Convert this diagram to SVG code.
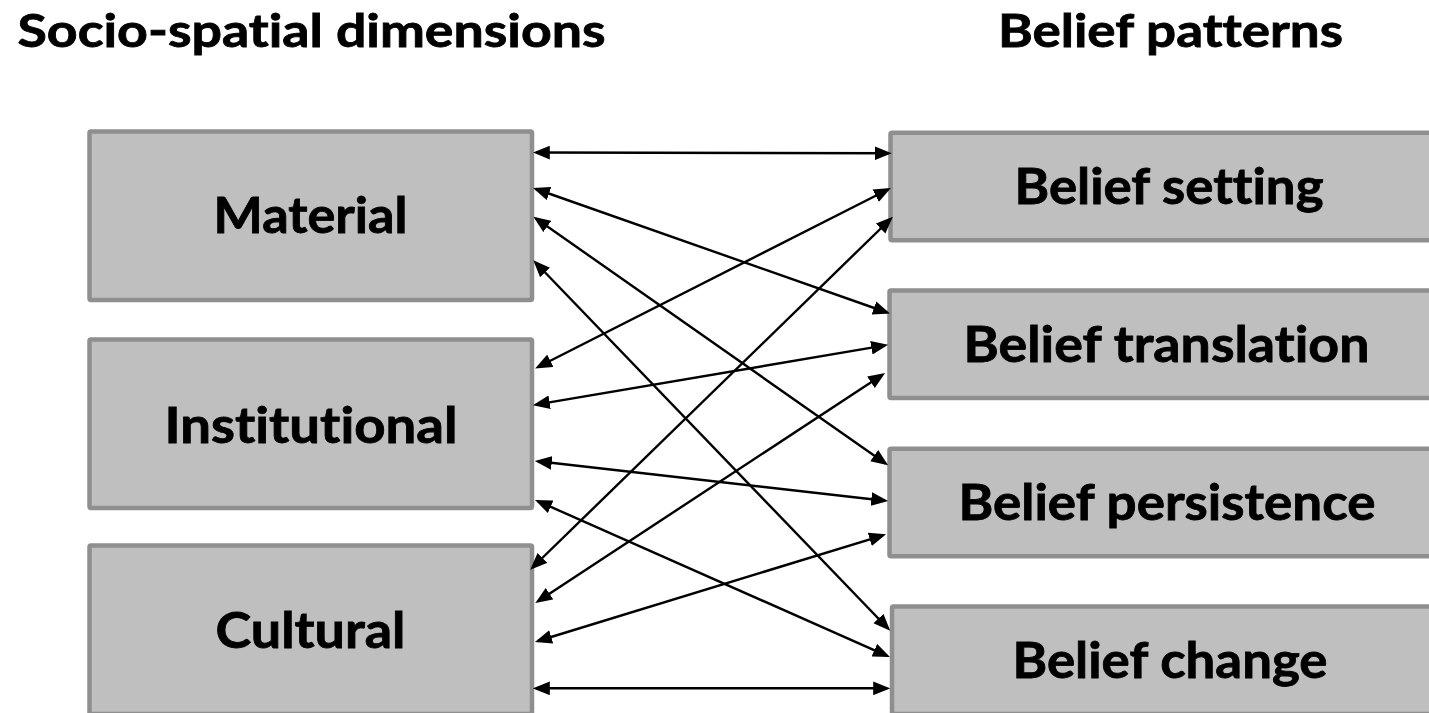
<svg xmlns="http://www.w3.org/2000/svg" width="1429" height="713" viewBox="0 0 1429 713">
  <style>
    .box { fill: #bfbfbf; stroke: #8f8f8f; stroke-width: 4.5; }
    .lbl { font-family: Lato, "Liberation Sans", sans-serif; font-weight: 700; font-size: 49px; fill: #000; stroke: #000; stroke-width: 0.8; text-anchor: middle; font-variant-ligatures: none; font-feature-settings: "liga" 0, "dlig" 0; }
    .title { font-family: Lato, "Liberation Sans", sans-serif; font-weight: 700; font-size: 46px; fill: #000; stroke: #000; stroke-width: 0.8; text-anchor: middle; font-variant-ligatures: none; font-feature-settings: "liga" 0, "dlig" 0; }
    .conn line { stroke: #000; stroke-width: 2.4; marker-start: url(#ah); marker-end: url(#ah); }
  </style>
  <defs>
    <marker id="ah" markerUnits="userSpaceOnUse" markerWidth="17" markerHeight="14" viewBox="0 0 16 13" refX="13" refY="6.5" orient="auto-start-reverse">
      <path d="M0,0 L16,6.5 L0,13 z" fill="#000"/>
    </marker>
  </defs>
  <rect width="1429" height="713" fill="#fff"/>

  <g id="title-left"><text class="title" x="311.5" y="47" textLength="588" lengthAdjust="spacingAndGlyphs">Socio-spatial dimensions</text></g>
  <g id="title-right"><text class="title" x="1170.5" y="47" textLength="345" lengthAdjust="spacingAndGlyphs">Belief patterns</text></g>

  <g id="material"><rect class="box" x="89.5" y="131.5" width="442.5" height="168.5" rx="1.5"/><text class="lbl" x="310.5" y="233.3" textLength="194" lengthAdjust="spacingAndGlyphs">Material</text></g>
  <g id="institutional"><rect class="box" x="89.5" y="339.5" width="442.5" height="168.5" rx="1.5"/><text class="lbl" x="311" y="442.7" textLength="293" lengthAdjust="spacingAndGlyphs">Institutional</text></g>
  <g id="cultural"><rect class="box" x="89.5" y="545.5" width="442.5" height="168.5" rx="1.5"/><text class="lbl" x="310.5" y="648.3" textLength="190" lengthAdjust="spacingAndGlyphs">Cultural</text></g>

  <g id="belief-setting"><rect class="box" x="890.5" y="132.8" width="560" height="107.4" rx="1.5"/><text class="lbl" x="1169" y="204" textLength="309" lengthAdjust="spacingAndGlyphs">Belief setting</text></g>
  <g id="belief-translation"><rect class="box" x="889.5" y="290.5" width="560" height="107.4" rx="1.5"/><text class="lbl" x="1166.5" y="361.7" textLength="406" lengthAdjust="spacingAndGlyphs">Belief translation</text></g>
  <g id="belief-persistence"><rect class="box" x="889.5" y="448.8" width="560" height="107.4" rx="1.5"/><text class="lbl" x="1167" y="520" textLength="417" lengthAdjust="spacingAndGlyphs">Belief persistence</text></g>
  <g id="belief-change"><rect class="box" x="892" y="606.5" width="560" height="107.4" rx="1.5"/><text class="lbl" x="1170" y="678.3" textLength="315" lengthAdjust="spacingAndGlyphs">Belief change</text></g>

  <g id="connectors" class="conn">
    <line x1="536" y1="152.5" x2="888.5" y2="153.3"/>
    <line x1="536" y1="189" x2="887" y2="312.5"/>
    <line x1="536" y1="218.5" x2="885.5" y2="463.5"/>
    <line x1="535.5" y1="262.5" x2="888" y2="628.5"/>
    <line x1="538" y1="367" x2="888" y2="189.5"/>
    <line x1="536" y1="404.6" x2="885" y2="345.4"/>
    <line x1="538" y1="461.3" x2="885" y2="500.7"/>
    <line x1="538" y1="501.2" x2="887" y2="655.8"/>
    <line x1="532.5" y1="567.5" x2="890.5" y2="219"/>
    <line x1="538" y1="601.3" x2="882.5" y2="374.7"/>
    <line x1="538" y1="641" x2="883" y2="535.3"/>
    <line x1="536" y1="688.3" x2="887" y2="688.3"/>
  </g>
</svg>
